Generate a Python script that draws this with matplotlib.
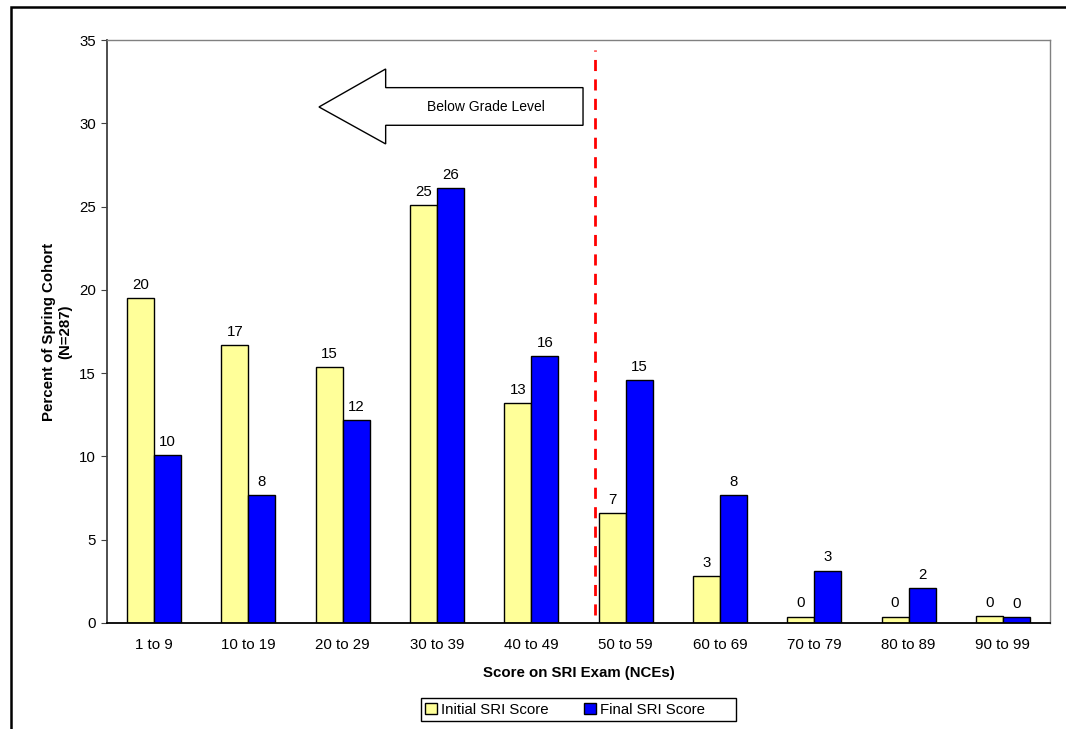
import matplotlib
matplotlib.use("Agg")
import matplotlib.pyplot as plt
from matplotlib.patches import Polygon, Rectangle
import numpy as np

plt.rcParams['font.family'] = ['Liberation Sans', 'DejaVu Sans']

categories = ["1 to 9", "10 to 19", "20 to 29", "30 to 39", "40 to 49",
              "50 to 59", "60 to 69", "70 to 79", "80 to 89", "90 to 99"]
initial = [19.5, 16.7, 15.35, 25.1, 13.2, 6.6, 2.8, 0.38, 0.38, 0.4]
final = [10.1, 7.66, 12.2, 26.1, 16.0, 14.6, 7.66, 3.14, 2.08, 0.34]
initial_labels = ["20", "17", "15", "25", "13", "7", "3", "0", "0", "0"]
final_labels = ["10", "8", "12", "26", "16", "15", "8", "3", "2", "0"]

FS = 10.8
W, H = 1066, 729
fig = plt.figure(figsize=(W / 100, H / 100), dpi=100)
ax = fig.add_axes([107 / W, 1 - 623 / H, (1050 - 107) / W, (623 - 40) / H])

x = np.arange(len(categories))
bw = 0.286
b1 = ax.bar(x - bw / 2, initial, bw, color="#FFFF99", edgecolor="black", linewidth=1.0,
            label="Initial SRI Score")
b2 = ax.bar(x + bw / 2, final, bw, color="#0000FF", edgecolor="black", linewidth=1.0,
            label="Final SRI Score")

for rect, lab in zip(b1, initial_labels):
    ax.annotate(lab, (rect.get_x() + rect.get_width() / 2, rect.get_height()),
                xytext=(0, 4.5), textcoords="offset points", ha="center", va="bottom", fontsize=FS)
for rect, lab in zip(b2, final_labels):
    ax.annotate(lab, (rect.get_x() + rect.get_width() / 2, rect.get_height()),
                xytext=(0, 4.5), textcoords="offset points", ha="center", va="bottom", fontsize=FS)

ax.set_xlim(-0.5, len(categories) - 0.5)
ax.set_ylim(0, 35)
ax.set_yticks(range(0, 36, 5))
ax.set_xticks(x)
ax.set_xticklabels(categories, fontsize=FS)
ax.tick_params(axis="y", labelsize=FS, length=4, direction="out", color="#404040", pad=4)
ax.tick_params(axis="x", length=0, pad=11)

for s in ["top", "right"]:
    ax.spines[s].set_color("#808080")
    ax.spines[s].set_linewidth(1.0)
ax.spines["left"].set_color("#404040")
ax.spines["left"].set_linewidth(1.3)
ax.spines["bottom"].set_color("black")
ax.spines["bottom"].set_linewidth(1.3)

ax.set_xlabel("Score on SRI Exam (NCEs)", fontsize=FS, fontweight="bold", labelpad=10)
ax.set_ylabel("Percent of Spring Cohort\n(N=287)", fontsize=FS, fontweight="bold", labelpad=5)

# red dashed divider
ax.plot([4.675, 4.675], [0.5, 34.4], color="#FF0000", linestyle=(0, (4, 3)), linewidth=2)

# arrow
arrow = Polygon([(1.748, 30.98), (2.455, 33.26), (2.455, 32.14), (4.548, 32.14),
                 (4.548, 29.88), (2.455, 29.88), (2.455, 28.76)],
                closed=True, facecolor="white", edgecolor="black", linewidth=1.0, zorder=5)
ax.add_patch(arrow)
ax.text(3.519, 30.95, "Below Grade Level", ha="center", va="center", fontsize=10, zorder=6)

# legend (frame drawn separately to match the wider box)
leg = fig.legend(handles=[b1, b2], loc="center", bbox_to_anchor=(565 / W, 1 - 709.5 / H),
                 ncol=2, fontsize=FS, frameon=False,
                 handlelength=0.8, handleheight=0.8, handletextpad=0.3, columnspacing=2.3,
                 borderpad=0.2)
fig.patches.append(Rectangle((421 / W, 1 - 721 / H), (736 - 421) / W, (721 - 698) / H,
                             transform=fig.transFigure, fill=False, edgecolor="black",
                             linewidth=1.0))

fig.patches.append(Rectangle((11 / W, -0.1), 1.2, 1 - 7 / H + 0.1, transform=fig.transFigure,
                             fill=False, edgecolor="black", linewidth=1.8))

fig.savefig("out.png", dpi=100)
